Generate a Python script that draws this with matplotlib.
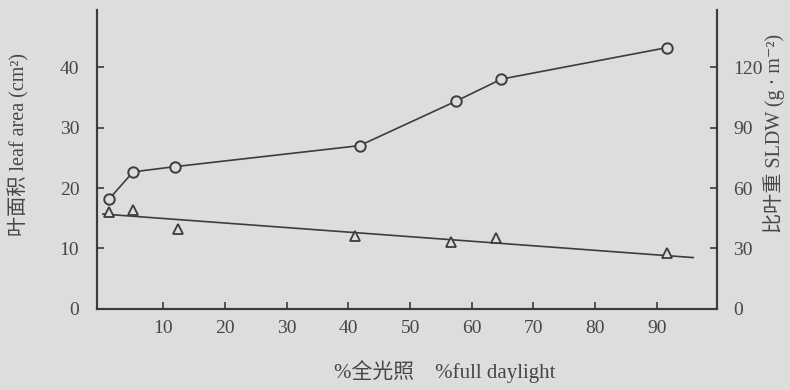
import matplotlib
matplotlib.use("Agg")
import matplotlib.pyplot as plt

# % full daylight
light_sldw = [1.2, 5.1, 11.9, 41.8, 57.4, 64.8, 91.6]
# specific leaf dry weight, g m-2 (circles, right axis)
sldw = [54.5, 68, 70.6, 81, 103, 114, 129.6]

light_area = [1.2, 5.1, 12.3, 41.0, 56.6, 64.0, 91.6]
# leaf area, cm2 (triangles, left axis)
leaf_area = [16.0, 16.4, 13.3, 12.1, 11.0, 11.7, 9.2]
# fitted line for leaf area
fit_x = [0.2, 95.9]
fit_y = [15.7, 8.5]

x_ticks = [10, 20, 30, 40, 50, 60, 70, 80, 90]
left_ticks = [0, 10, 20, 30, 40]
right_ticks = [0, 30, 60, 90, 120]

bg = "#dddddb"
ink = "#3c3c3c"
txt = "#474747"
font = ["Liberation Serif", "Noto Sans CJK SC", "DejaVu Serif"]
plt.rcParams["font.family"] = font

fig = plt.figure(figsize=(7.9, 3.9), dpi=100, facecolor=bg)
ax = fig.add_axes([0.1232, 0.2077, 0.784, 0.7663], facecolor=bg)
ax2 = ax.twinx()

ax.plot(fit_x, fit_y, color=ink, lw=1.2)
ax.plot(light_area, leaf_area, ls="none", marker="^", ms=7, mfc=bg,
        mec=ink, mew=1.3)
ax2.plot(light_sldw, sldw, color=ink, lw=1.2, marker="o", ms=7.5,
         mfc=bg, mec=ink, mew=1.4)

ax.set_xlim(-0.7, 99.7)
ax.set_ylim(0, 49.4)
ax2.set_ylim(0, 49.4 * 3)
ax.set_xticks(x_ticks)
ax.set_yticks(left_ticks)
ax2.set_yticks(right_ticks)

for a in (ax, ax2):
    a.spines["top"].set_visible(False)
    for s in ("left", "right", "bottom"):
        a.spines[s].set_linewidth(1.5)
        a.spines[s].set_color(ink)
    a.tick_params(direction="in", length=5, width=1.2, color=ink,
                  labelsize=14, labelcolor=txt)
ax.tick_params(axis="y", pad=13)
ax.tick_params(axis="x", pad=8)
ax2.tick_params(axis="y", pad=12)
ax2.patch.set_visible(False)

fig.text(19 / 790, 1 - 145 / 390, "叶面积 leaf area (cm²)", rotation=90,
         ha="center", va="center", fontsize=14.5, color=txt)
fig.text(774 / 790, 1 - 133 / 390, "比叶重 SLDW (g · m⁻²)", rotation=90,
         ha="center", va="center", fontsize=14.5, color=txt)
fig.text(445 / 790, 1 - 372 / 390, "%全光照    %full daylight",
         ha="center", va="center", fontsize=15, color=txt)

fig.savefig("out.png", dpi=100, facecolor=bg)
